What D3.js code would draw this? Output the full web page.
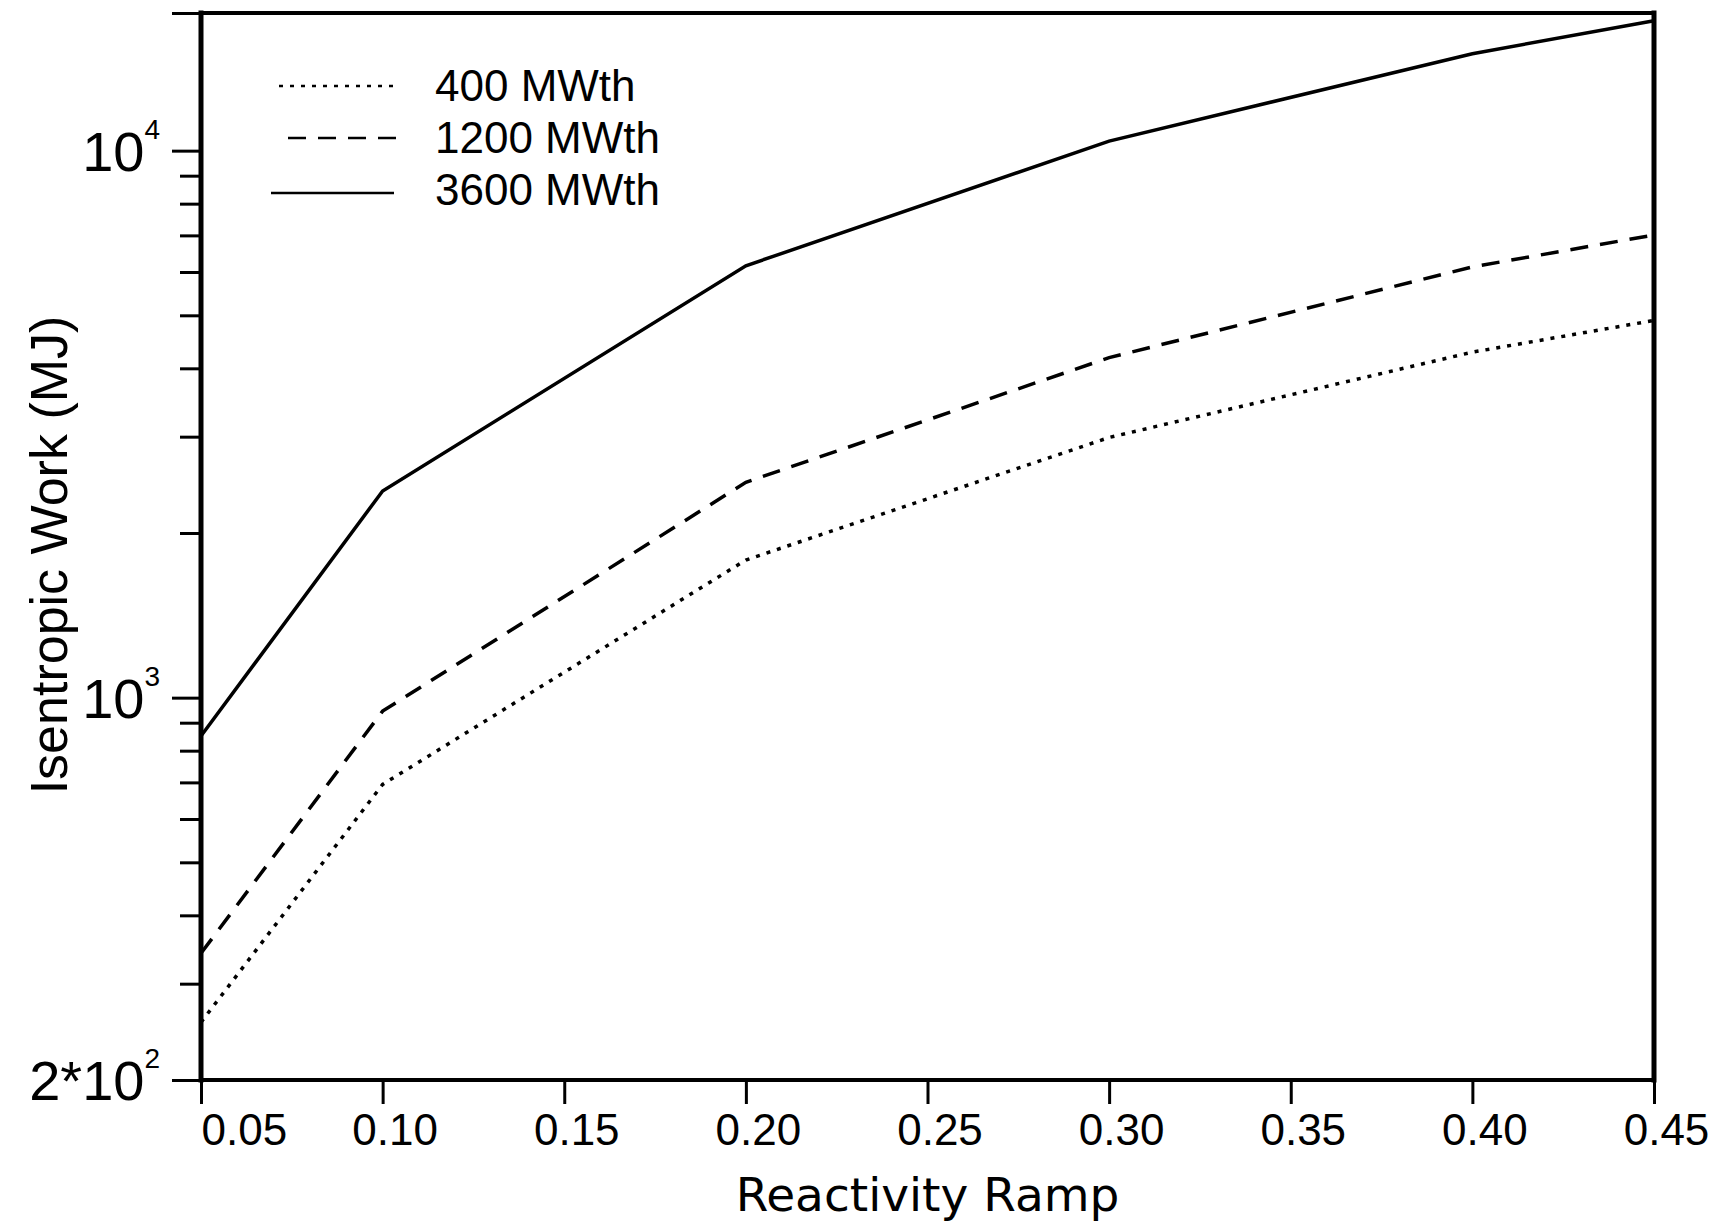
<!DOCTYPE html>
<html>
<head>
<meta charset="utf-8">
<script src="https://cdn.jsdelivr.net/npm/d3@7"></script>
<style>
  body { margin: 0; background: #fff; }
  text { fill: #000; }
</style>
</head>
<body>
<script>
// data
const ramp = [0.05, 0.10, 0.20, 0.30, 0.40, 0.45];
const work400 = [255, 694, 1785, 2990, 4282, 4893];
const work1200 = [341, 945, 2476, 4184, 6130, 7012];
const work3600 = [851, 2387, 6160, 10410, 15040, 17280];
const seriesNames = ["400 MWth", "1200 MWth", "3600 MWth"];
const xTicks = [0.05, 0.10, 0.15, 0.20, 0.25, 0.30, 0.35, 0.40, 0.45];
const yMajor = [200, 1000, 10000];
const yMinor = [300, 400, 500, 600, 700, 800, 900, 2000, 3000, 4000, 5000, 6000, 7000, 8000, 9000];
const yTop = 17850;

const width = 1715;
const height = 1222;
const margin = { left: 201, right: 61, top: 13, bottom: 142 };

const svg = d3.select("body").append("svg")
    .attr("width", width)
    .attr("height", height);

svg.append("rect").attr("width", width).attr("height", height).attr("fill", "#fff");

const x = d3.scaleLinear()
    .domain([0.05, 0.45])
    .range([margin.left, width - margin.right]);

const y = d3.scaleLog()
    .domain([200, yTop])
    .range([height - margin.bottom, margin.top]);

const numFont = "'Liberation Sans Narrow', 'Liberation Sans', Arial, sans-serif";
const textFont = "'Liberation Sans', Arial, sans-serif";

// x axis ticks + labels
const xAxis = svg.append("g")
    .attr("transform", `translate(0,${y(200)})`)
    .call(d3.axisBottom(x).tickValues(xTicks).tickSize(24).tickFormat(d3.format(".2f")));
xAxis.select(".domain").remove();
xAxis.selectAll(".tick line").attr("stroke", "#000").attr("stroke-width", 3);
xAxis.selectAll(".tick text")
    .attr("font-family", textFont)
    .attr("font-size", 44)
    .attr("fill", "#000")
    .attr("y", 65)
    .attr("dy", null)
    .attr("x", 12)
    .filter(d => d === 0.05)
    .attr("text-anchor", "start")
    .attr("x", 0);

// y axis minor ticks
const yMin = svg.append("g")
    .attr("transform", `translate(${x(0.05)},0)`)
    .call(d3.axisLeft(y).tickValues(yMinor).tickSize(21).tickFormat(""));
yMin.select(".domain").remove();
yMin.selectAll(".tick line").attr("stroke", "#000").attr("stroke-width", 3);

// y axis major ticks (plus the top edge)
const yMaj = svg.append("g")
    .attr("transform", `translate(${x(0.05)},0)`)
    .call(d3.axisLeft(y).tickValues(yMajor.concat([yTop])).tickSize(29).tickFormat(""));
yMaj.select(".domain").remove();
yMaj.selectAll(".tick line").attr("stroke", "#000").attr("stroke-width", 3);

// labels with superscript exponents
const yLab = svg.append("g").selectAll("text")
    .data(yMajor)
    .enter().append("text")
    .attr("x", 160)
    .attr("y", d => y(d) + 20)
    .attr("text-anchor", "end")
    .attr("font-family", numFont)
    .attr("font-size", 56);
yLab.append("tspan").text(d => {
    const e = Math.floor(Math.log10(d));
    const m = Math.round(d / Math.pow(10, e));
    return (m === 1 ? "" : m + "*") + "10";
});
yLab.append("tspan")
    .attr("dy", -32)
    .attr("font-size", 28)
    .text(d => Math.floor(Math.log10(d)));

// frame
const frame = svg.append("g").attr("stroke", "#000").attr("stroke-linecap", "square");
frame.append("line")
    .attr("x1", x(0.05)).attr("x2", x(0.45))
    .attr("y1", y(yTop)).attr("y2", y(yTop))
    .attr("stroke-width", 4);
frame.append("line")
    .attr("x1", x(0.05)).attr("x2", x(0.45))
    .attr("y1", y(200)).attr("y2", y(200))
    .attr("stroke-width", 4);
frame.append("line")
    .attr("x1", x(0.05)).attr("x2", x(0.05))
    .attr("y1", y(yTop)).attr("y2", y(200))
    .attr("stroke-width", 5);
frame.append("line")
    .attr("x1", x(0.45)).attr("x2", x(0.45))
    .attr("y1", y(yTop)).attr("y2", y(200))
    .attr("stroke-width", 5);

// data lines
const dashes = ["4,7", "18,12", null];
const series = [work400, work1200, work3600];
const line = d3.line()
    .x((d, i) => x(ramp[i]))
    .y(d => y(d));

svg.append("g").selectAll("path")
    .data(series)
    .enter().append("path")
    .attr("d", line)
    .attr("fill", "none")
    .attr("stroke", "#000")
    .attr("stroke-width", 3.5)
    .attr("stroke-dasharray", (d, i) => dashes[i]);

// legend
const legendRows = [
    { x1: 279, x2: 399, y: 86 },
    { x1: 288, x2: 397, y: 138 },
    { x1: 271, x2: 394, y: 193 }
];
const legend = svg.append("g");
legend.selectAll("line")
    .data(seriesNames)
    .enter().append("line")
    .attr("x1", (d, i) => legendRows[i].x1)
    .attr("x2", (d, i) => legendRows[i].x2)
    .attr("y1", (d, i) => legendRows[i].y)
    .attr("y2", (d, i) => legendRows[i].y)
    .attr("stroke", "#000")
    .attr("stroke-width", 2.5)
    .attr("stroke-dasharray", (d, i) => dashes[i]);
legend.selectAll("text")
    .data(seriesNames)
    .enter().append("text")
    .attr("x", 435)
    .attr("y", (d, i) => 101 + i * 52)
    .attr("font-family", textFont)
    .attr("font-size", 44)
    .text(d => d);

// axis titles
svg.append("text")
    .attr("x", (x(0.05) + x(0.45)) / 2)
    .attr("y", 1211)
    .attr("text-anchor", "middle")
    .attr("font-family", "'DejaVu Sans', sans-serif")
    .attr("font-size", 47)
    .text("Reactivity Ramp");

svg.append("text")
    .attr("transform", "translate(67,555) rotate(-90)")
    .attr("text-anchor", "middle")
    .attr("font-family", textFont)
    .attr("font-size", 52)
    .text("Isentropic Work (MJ)");
</script>
</body>
</html>
